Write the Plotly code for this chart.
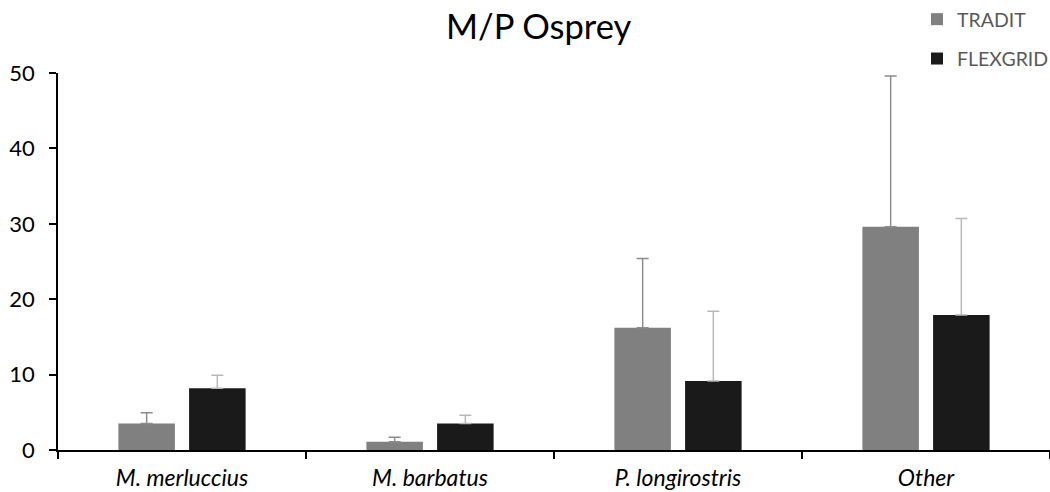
import plotly.graph_objects as go

categories = ["M. merluccius", "M. barbatus", "P. longirostris", "Other"]
tradit = [3.5, 1.1, 16.2, 29.6]
tradit_err = [1.45, 0.6, 9.2, 20.0]
flexgrid = [8.2, 3.5, 9.15, 17.9]
flexgrid_err = [1.7, 1.1, 9.25, 12.8]
y_ticks = [0, 10, 20, 30, 40, 50]

FONT = "Lato"

fig = go.Figure()
fig.add_trace(go.Bar(
    x=categories, y=tradit, name="TRADIT", legendgroup="a",
    marker=dict(color="#808080", line=dict(width=0)),
    error_y=dict(type="data", symmetric=False, array=tradit_err,
                 arrayminus=[0] * len(tradit_err), color="#8c8c8c",
                 thickness=1.5, width=6),
))
fig.add_trace(go.Bar(
    x=categories, y=flexgrid, name="FLEXGRID", legendgroup="b",
    marker=dict(color="#1a1a1a", line=dict(width=0)),
    error_y=dict(type="data", symmetric=False, array=flexgrid_err,
                 arrayminus=[0] * len(flexgrid_err), color="#b8b8b8",
                 thickness=1.5, width=6),
))

fig.update_layout(
    width=1050, height=492,
    margin=dict(l=58, r=0, t=73, b=42, autoexpand=False),
    paper_bgcolor="white", plot_bgcolor="white",
    barmode="group", bargap=0.43, bargroupgap=0.2,
    font=dict(family=FONT, color="black"),
    title=dict(text="M/P Osprey", x=0.513, xref="container", xanchor="center",
               y=1 - 27 / 492, yref="container", yanchor="middle",
               font=dict(family=FONT, size=34.5, color="black")),
    legend=dict(x=917 / 1050, xref="container", y=1.02, yref="container",
                xanchor="left", yanchor="top",
                font=dict(family=FONT, size=19.5, color="#595959"),
                traceorder="grouped", tracegroupgap=11,
                bgcolor="rgba(0,0,0,0)"),
    showlegend=True,
)
fig.update_xaxes(
    type="category", tickson="boundaries", ticks="outside", ticklen=7,
    tickwidth=1.5, tickcolor="black", showline=True, linecolor="black",
    linewidth=1.5, showgrid=False, zeroline=False, ticklabelstandoff=7,
    tickfont=dict(family=FONT, size=23, color="black"),
    ticktext=["<i>" + c + "</i>" for c in categories], tickvals=categories,
)
fig.update_yaxes(
    range=[0, 50], tickvals=y_ticks, ticks="outside", ticklen=7,
    tickwidth=1.5, tickcolor="black", showline=True, linecolor="black",
    linewidth=1.5, showgrid=False, zeroline=False, ticklabelstandoff=10,
    tickfont=dict(family=FONT, size=22, color="black"),
)

fig.write_html("out.html")
